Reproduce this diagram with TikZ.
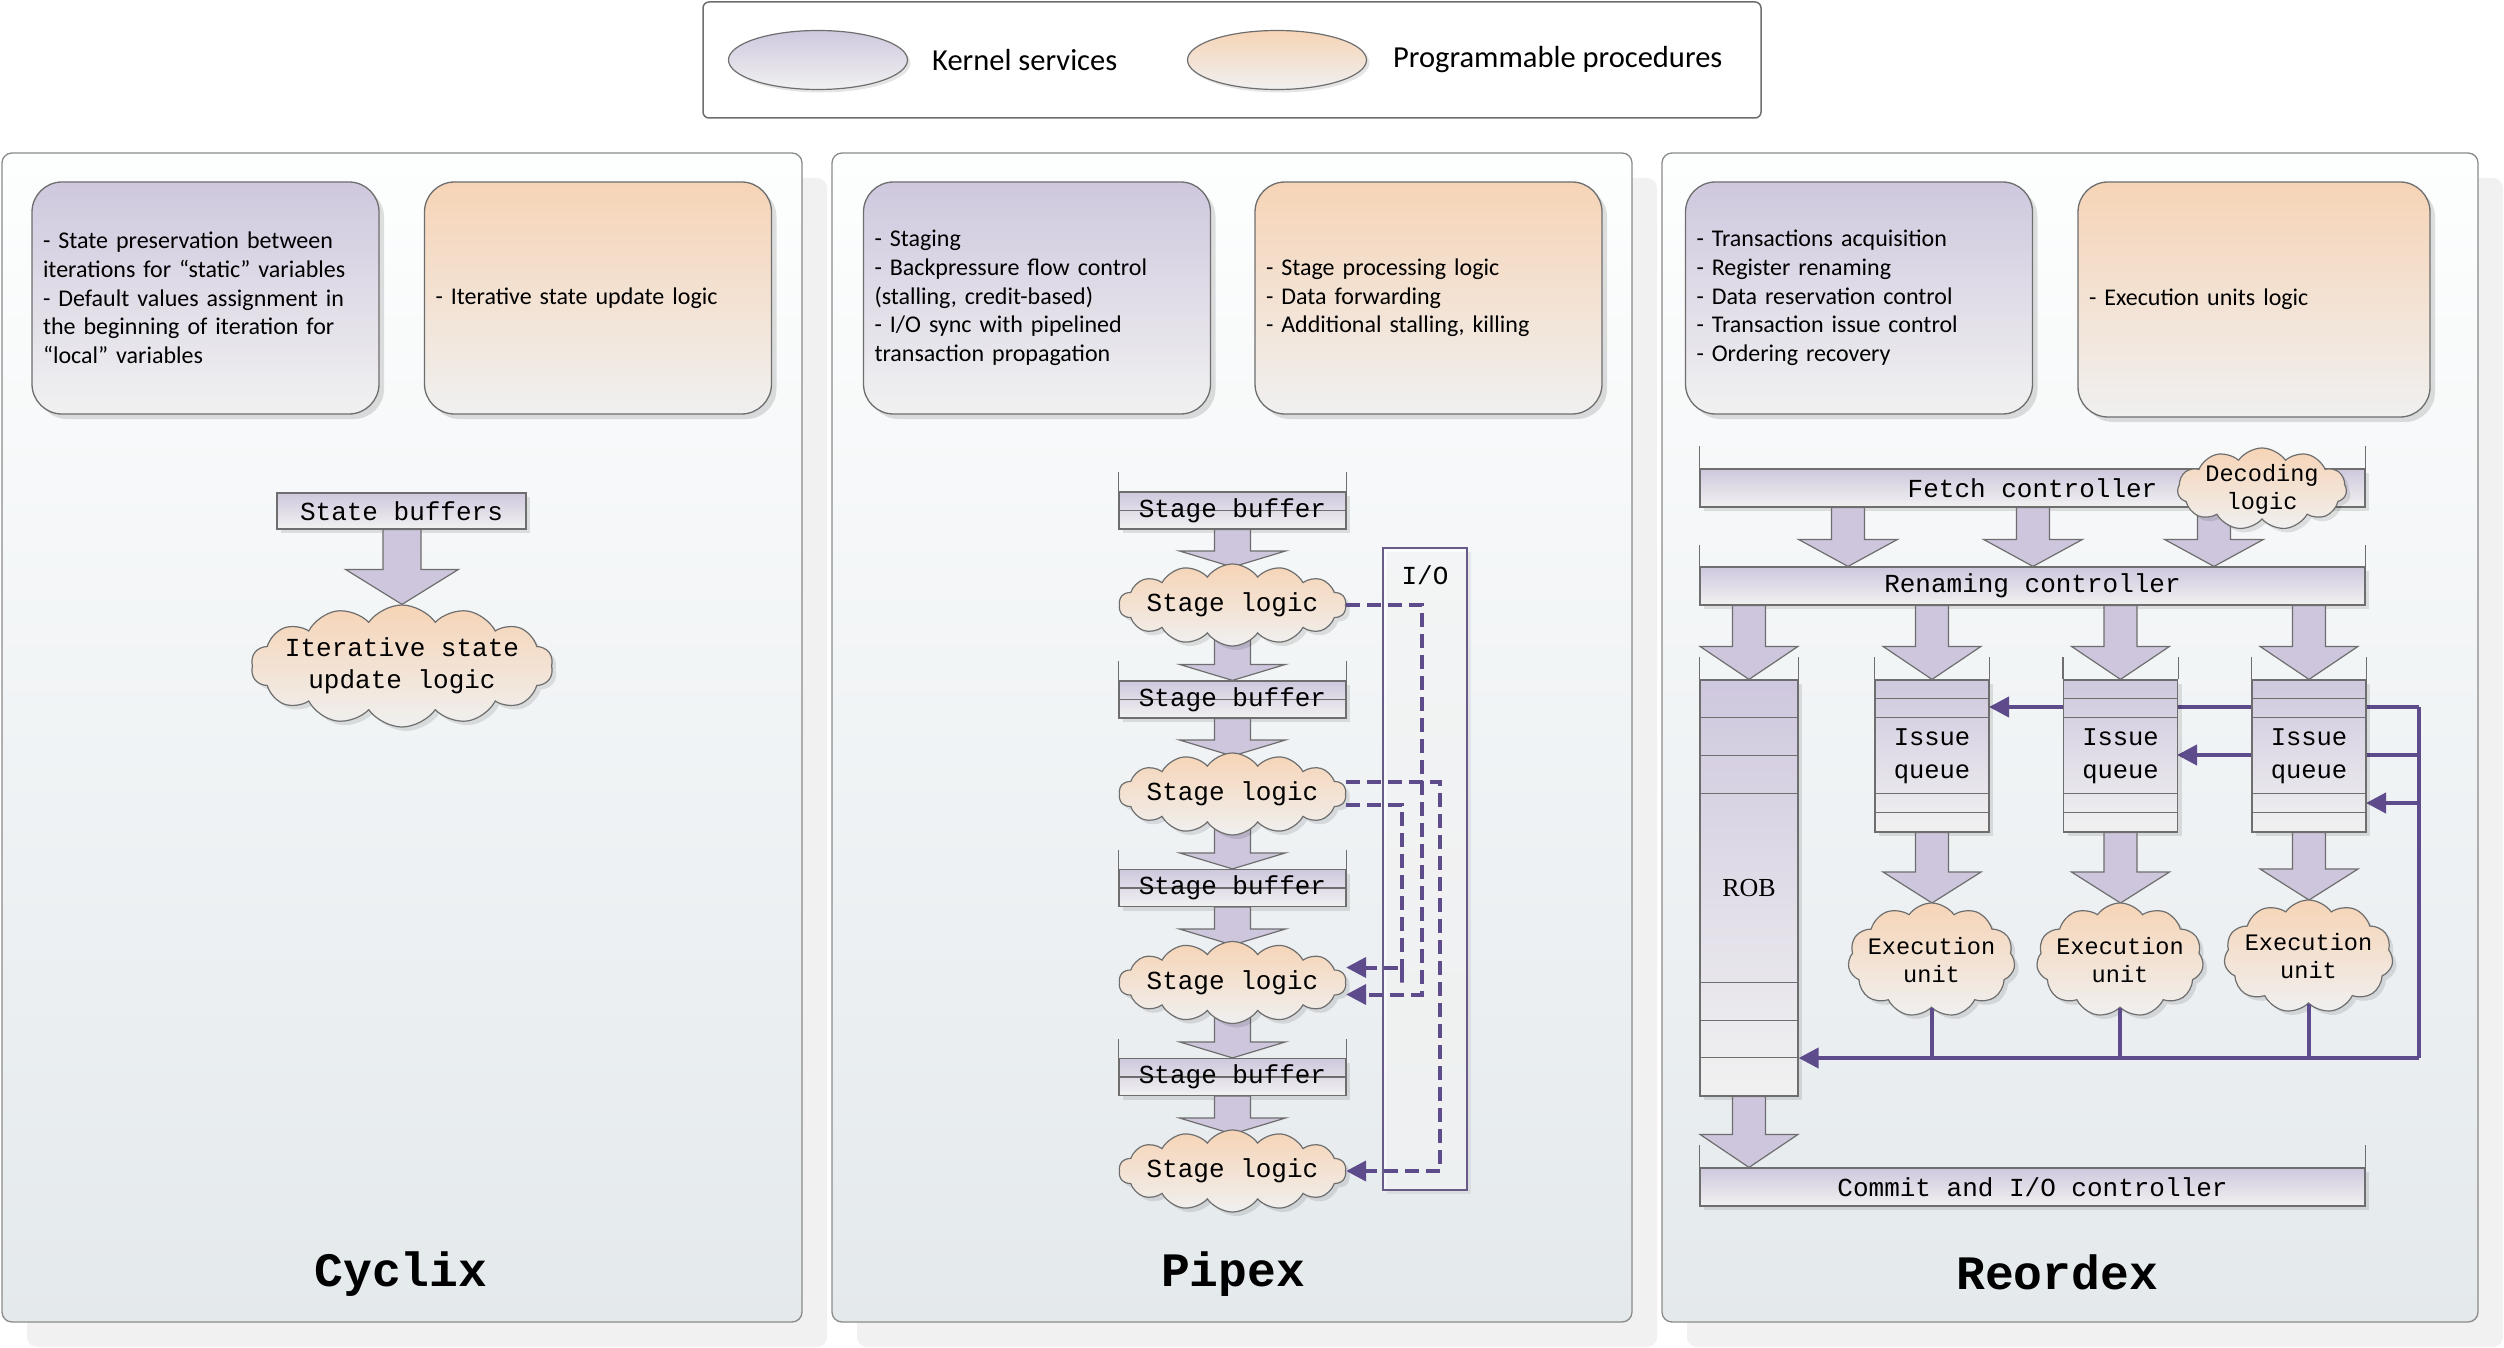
\documentclass[tikz,border=0pt]{standalone}
\usepackage{fontspec}
\setmainfont{Carlito}
\newfontfamily\monof{Liberation Mono}
\newfontfamily\serf{Liberation Serif}
\usetikzlibrary{shapes.symbols,shapes.geometric,calc,arrows.meta,shadows}
\definecolor{kTop}{HTML}{CFC8DE}
\definecolor{kBot}{HTML}{F1F1F1}
\definecolor{pTop}{HTML}{F6D4B6}
\definecolor{pBot}{HTML}{F0F0F0}
\definecolor{panTop}{HTML}{FDFEFE}
\definecolor{panBot}{HTML}{E4E9EC}
\definecolor{arrFill}{HTML}{CDC6DC}
\definecolor{lineP}{HTML}{5E4B8B}
\definecolor{edgeG}{HTML}{6E6E6E}
\definecolor{panEdge}{HTML}{8A8A8A}
\definecolor{shadG}{HTML}{F1F1F1}
\newcommand\bxfont{\fontsize{24}{28.7}\selectfont}
\newcommand\mfont{\monof\fontsize{26}{32}\selectfont}
\newcommand\sfont{\monof\fontsize{23.6}{28}\selectfont}
\newcommand\legfont{\fontsize{30.5}{36}\selectfont}
\newcommand\titfont{\monof\bfseries\fontsize{48}{52}\selectfont}
\newcommand\barr[5]{%
  \filldraw[barrow] let \p1=#1, \p2=#2 in
   (\x2-#3pt,\y1) -- (\x2-#3pt,\y2+#5pt) -- (\x2-#4pt,\y2+#5pt) -- (\x2,\y2)
   -- (\x2+#4pt,\y2+#5pt) -- (\x2+#3pt,\y2+#5pt) -- (\x2+#3pt,\y1) -- cycle;}
\newcommand\sides[2]{\draw[edgeG,line width=1.2pt] (#1.north west) -- ++(0,-#2) (#1.north east) -- ++(0,-#2);}
\newcommand\cells[2]{\foreach \o in {#2}{\draw[edgeG,line width=1.2pt] ($(#1.north west)+(0,\o)$) -- ($(#1.north east)+(0,\o)$);}}
\begin{document}
\begin{tikzpicture}[x=1pt,y=-1pt,
  every node/.style={inner sep=0pt},
  panel/.style={draw=panEdge, line width=1.3pt, rounded corners=10pt, top color=panTop, bottom color=panBot, minimum height=1169pt},
  kbox/.style={draw=edgeG, line width=1.3pt, rounded corners=30pt, top color=kTop, bottom color=kBot,
     drop shadow={shadow xshift=5pt,shadow yshift=-5pt,fill=black,opacity=0.12},
     minimum height=232pt, minimum width=347pt, text width=325pt, align=left, inner xsep=11pt, font=\bxfont},
  pbox/.style={kbox, top color=pTop, bottom color=pBot},
  buf/.style={draw=edgeG, line width=1.2pt, top color=kTop, bottom color=kBot, font=\mfont,
     drop shadow={shadow xshift=4pt,shadow yshift=-4pt,fill=black,opacity=0.10}},
  midline/.style={path picture={\draw[edgeG,line width=1.2pt] (path picture bounding box.west) -- (path picture bounding box.east);}},
  cloudn/.style={cloud, cloud puffs=14, cloud puff arc=110, cloud ignores aspect, draw=edgeG, line width=1.2pt, top color=pTop, bottom color=pBot,
     drop shadow={shadow xshift=4pt,shadow yshift=-4pt,fill=black,opacity=0.10}},
  barrow/.style={fill=arrFill, draw=edgeG, line width=1.2pt, line join=miter},
  dashl/.style={draw=lineP, line width=4pt, dash pattern=on 14pt off 7pt},
  soll/.style={draw=lineP, line width=4pt},
  tipa/.style={-{Triangle[length=20pt,width=20pt]}}
]
\useasboundingbox (0,0) rectangle (2504,1348);
\fill[white] (0,0) rectangle (2504,1348);

% legend
\node[draw=edgeG, line width=1.5pt, rounded corners=6pt, fill=white, minimum width=1058pt, minimum height=116pt] (leg) at (1232,60) {};
\node[ellipse, draw=edgeG, line width=1.2pt, top color=kTop, bottom color=kBot, minimum width=179pt, minimum height=59pt,
  drop shadow={shadow xshift=3pt,shadow yshift=-3pt,fill=black,opacity=0.10}] (lk) at (818,60) {};
\node[ellipse, draw=edgeG, line width=1.2pt, top color=pTop, bottom color=pBot, minimum width=179pt, minimum height=59pt,
  drop shadow={shadow xshift=3pt,shadow yshift=-3pt,fill=black,opacity=0.10}] (lp) at (1277,60) {};
\node[anchor=west, font=\legfont] (lkt) at (932,60) {Kernel services};
\node[anchor=west, font=\legfont] (lpt) at (1393,60) {Programmable procedures};

% panel shadows
\fill[shadG, rounded corners=10pt] (27,178) rectangle (827,1347);
\fill[shadG, rounded corners=10pt] (857,178) rectangle (1657,1347);
\fill[shadG, rounded corners=10pt] (1687,178) rectangle (2503,1347);

% panels
\node[panel, minimum width=800pt] (P1) at (402,737.5) {};
\node[panel, minimum width=800pt] (P2) at (1232,737.5) {};
\node[panel, minimum width=816pt] (P3) at (2070,737.5) {};

% top boxes
\node[kbox] (A) at (205.5,298) {- State preservation between\\iterations for “static” variables\\- Default values assignment in\\the beginning of iteration for\\“local” variables};
\node[pbox] (B) at (598,298) {- Iterative state update logic};
\node[kbox] (C) at (1037,298) {- Staging\\- Backpressure flow control\\(stalling, credit-based)\\- I/O sync with pipelined\\transaction propagation};
\node[pbox] (D) at (1428.5,298) {- Stage processing logic\\- Data forwarding\\- Additional stalling, killing};
\node[kbox] (E) at (1859,298) {- Transactions acquisition\\- Register renaming\\- Data reservation control\\- Transaction issue control\\- Ordering recovery};
\node[pbox, minimum width=352pt, text width=330pt, minimum height=235pt] (F) at (2254,299.5) {- Execution units logic};

% ---------- Cyclix
\node[buf, minimum width=249pt, minimum height=36pt] (SBf) at (401.5,511) {State buffers};
\node[cloudn, minimum width=302pt, minimum height=122pt] (ISU) at (402,666) {};
\node[font=\mfont, align=center] (ISUt) at (ISU.center) {Iterative state\\update logic};
\barr{(SBf.south)}{(ISU.north)}{19}{56.5}{35}

% ---------- Pipex
\node[draw=lineP!70!gray, line width=1.2pt, fill=white, fill opacity=0.55, minimum width=84pt, minimum height=642pt,
  drop shadow={shadow xshift=4pt,shadow yshift=-4pt,fill=black,opacity=0.06}] (IO) at (1425,869) {};
\node[font=\mfont] (IOt) at (1425,575) {I/O};

\node[buf, midline, minimum width=227pt, minimum height=37pt] (SB1) at (1232.5,510.5) {Stage buffer};
\node[buf, midline, minimum width=227pt, minimum height=37pt] (SB2) at (1232.5,699.5) {Stage buffer};
\node[buf, midline, minimum width=227pt, minimum height=37pt] (SB3) at (1232.5,888) {Stage buffer};
\node[buf, midline, minimum width=227pt, minimum height=37pt] (SB4) at (1232.5,1077) {Stage buffer};
\sides{SB1}{19}\sides{SB2}{19}\sides{SB3}{19}\sides{SB4}{19}

\barr{(SB1.south)}{(1232.5,567)}{18}{53}{16}
\barr{(1232.5,640)}{(SB2.north)}{18}{53}{16}
\barr{(SB2.south)}{(1232.5,756)}{18}{53}{16}
\barr{(1232.5,828)}{(SB3.north)}{18}{53}{16}
\barr{(SB3.south)}{(1232.5,945)}{18}{53}{16}
\barr{(1232.5,1017)}{(SB4.north)}{18}{53}{16}
\barr{(SB4.south)}{(1232.5,1134)}{18}{53}{16}

\node[cloudn, minimum width=227pt, minimum height=82pt] (SL1) at (1232.5,605) {};
\node[cloudn, minimum width=227pt, minimum height=82pt] (SL2) at (1232.5,794) {};
\node[cloudn, minimum width=227pt, minimum height=82pt] (SL3) at (1232.5,982.5) {};
\node[cloudn, minimum width=227pt, minimum height=82pt] (SL4) at (1232.5,1171) {};
\node[font=\mfont] (SL1t) at (SL1.center) {Stage logic};
\node[font=\mfont] (SL2t) at (SL2.center) {Stage logic};
\node[font=\mfont] (SL3t) at (SL3.center) {Stage logic};
\node[font=\mfont] (SL4t) at (SL4.center) {Stage logic};

\coordinate (v1) at (1422,0);
\coordinate (v2) at (1440,0);
\coordinate (v3) at (1402,0);
\draw[dashl,tipa] (SL1.east) -- (SL1.east -| v1) |- ($(SL3.east)+(0,12)$);
\draw[dashl,tipa] ($(SL2.east)+(0,-12)$) -| (v2 |- SL4.east) -- (SL4.east);
\draw[dashl,tipa] ($(SL2.east)+(0,11)$) -| (v3 |- SL3.east) |- ($(SL3.east)+(0,-15)$);

% ---------- Reordex
\coordinate (xf1) at (1848,0);
\coordinate (xf2) at (2033,0);
\coordinate (xf3) at (2214,0);
\coordinate (busR) at (2419,1058);
\coordinate (fb1) at (2419,707);
\coordinate (fb2) at (2419,755);
\coordinate (fb3) at (2419,803);

\node[buf, minimum width=665pt, minimum height=38pt] (FC) at (2032.5,488) {Fetch controller};
\node[buf, minimum width=665pt, minimum height=38pt] (RC) at (2032.5,586) {Renaming controller};
\node[buf, minimum width=665pt, minimum height=38pt] (CC) at (2032.5,1187) {Commit and I/O controller};
\sides{FC}{22}\sides{RC}{21}\sides{CC}{22}

% feedback lines (behind queues)
\draw[soll] (busR) -- (fb1);
\draw[soll,tipa] (fb1) -- (1989,707);
\draw[soll,tipa] (fb2) -- (2177,755);
\draw[soll,tipa] (fb3) -- (2366,803);

\node[buf, minimum width=98pt, minimum height=416pt, font=\serf\fontsize{26}{30}\selectfont] (ROB) at (1749,888) {ROB};
\cells{ROB}{38,76,114,303,341,378}
\node[buf, minimum width=114pt, minimum height=152pt, align=center, font=\monof\fontsize{25.5}{33}\selectfont] (Q1) at (1932,756) {Issue\\queue};
\node[buf, minimum width=114pt, minimum height=152pt, align=center, font=\monof\fontsize{25.5}{33}\selectfont] (Q2) at (2120.5,756) {Issue\\queue};
\node[buf, minimum width=114pt, minimum height=152pt, align=center, font=\monof\fontsize{25.5}{33}\selectfont] (Q3) at (2309,756) {Issue\\queue};
\cells{Q1}{19,38,114,133}\cells{Q2}{19,38,114,133}\cells{Q3}{19,38,114,133}
\sides{ROB}{22}\sides{Q1}{22}\sides{Q2}{22}\sides{Q3}{22}

% arrows
\barr{(FC.south -| xf1)}{(RC.north -| xf1)}{16.5}{49.5}{27}
\barr{(FC.south -| xf2)}{(RC.north -| xf2)}{16.5}{49.5}{27}
\barr{(FC.south -| xf3)}{(RC.north -| xf3)}{16.5}{49.5}{27}
\barr{(RC.south -| ROB)}{(ROB.north)}{16.5}{49}{33}
\barr{(RC.south -| Q1)}{(Q1.north)}{16.5}{49}{33}
\barr{(RC.south -| Q2)}{(Q2.north)}{16.5}{49}{33}
\barr{(RC.south -| Q3)}{(Q3.north)}{16.5}{49}{33}
\barr{(ROB.south)}{(CC.north -| ROB)}{16.5}{49}{33}

\node[cloudn, cloud puffs=11, minimum width=169pt, minimum height=82pt] (DL) at (2262,489) {};
\node[font=\sfont, align=center] (DLt) at (DL.center) {Decoding\\logic};

\barr{(Q1.south)}{(1932,903)}{16.5}{49}{31}
\barr{(Q2.south)}{(2120.5,903)}{16.5}{49}{31}
\barr{(Q3.south)}{(2309,900)}{16.5}{49}{31}

\node[cloudn, cloud puffs=11, minimum width=167pt, minimum height=114pt] (EU1) at (1931.5,960) {};
\node[cloudn, cloud puffs=11, minimum width=167pt, minimum height=114pt] (EU2) at (2120,960) {};
\node[cloudn, cloud puffs=11, minimum width=169pt, minimum height=113pt] (EU3) at (2308.5,956.5) {};
\node[font=\sfont, align=center] (EU1t) at (EU1.center) {Execution\\unit};
\node[font=\sfont, align=center] (EU2t) at (EU2.center) {Execution\\unit};
\node[font=\sfont, align=center] (EU3t) at (EU3.center) {Execution\\unit};

\draw[soll] (EU1.south) -- (EU1.south |- busR);
\draw[soll] (EU2.south) -- (EU2.south |- busR);
\draw[soll] (EU3.south) -- (EU3.south |- busR);
\draw[soll,tipa] (busR) -- (ROB.east |- busR);

% titles
\node[font=\titfont] (t1) at (401,1274) {Cyclix};
\node[font=\titfont] (t2) at (1233,1274) {Pipex};
\node[font=\titfont] (t3) at (2057,1272) {Reordex};
\end{tikzpicture}
\end{document}
